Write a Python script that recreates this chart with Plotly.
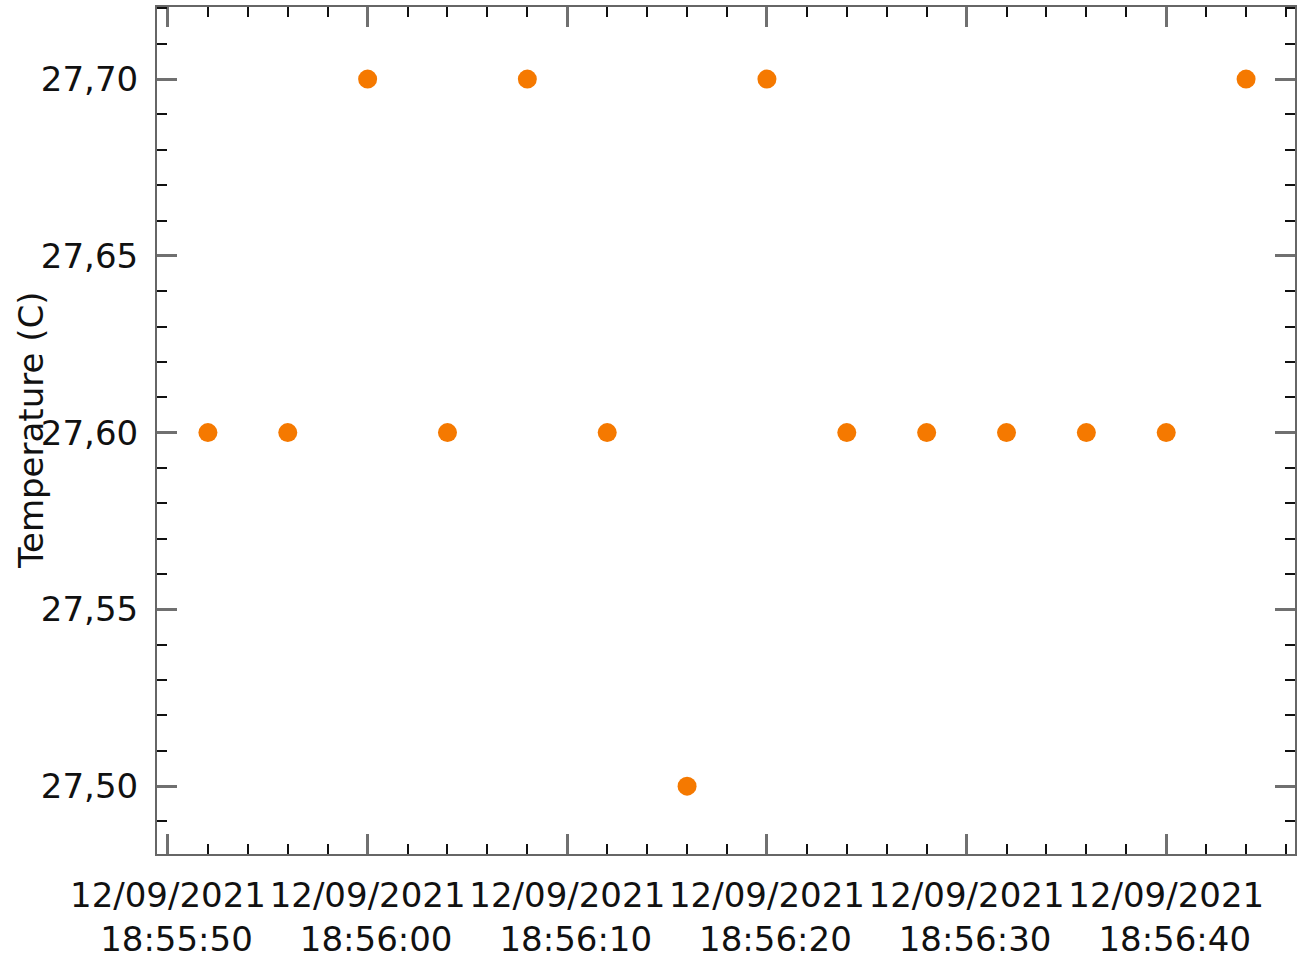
import plotly.graph_objects as go

times = ["2021-09-12 18:55:52", "2021-09-12 18:55:56", "2021-09-12 18:56:00",
         "2021-09-12 18:56:04", "2021-09-12 18:56:08", "2021-09-12 18:56:12",
         "2021-09-12 18:56:16", "2021-09-12 18:56:20", "2021-09-12 18:56:24",
         "2021-09-12 18:56:28", "2021-09-12 18:56:32", "2021-09-12 18:56:36",
         "2021-09-12 18:56:40", "2021-09-12 18:56:44"]
temps = [27.6, 27.6, 27.7, 27.6, 27.7, 27.6, 27.5, 27.7, 27.6, 27.6, 27.6, 27.6, 27.6, 27.7]

x_range = ["2021-09-12 18:55:49.45", "2021-09-12 18:56:46.45"]
y_range = [27.4808, 27.7204]

FONT = "DejaVu Sans"
FS = 34

fig = go.Figure()
fig.add_trace(go.Scatter(
    x=times, y=temps, mode="markers",
    marker=dict(color="#f57900", size=19, line=dict(width=0)),
    showlegend=False,
))

axis_common = dict(
    showgrid=False, zeroline=False, automargin=False,
    showline=True, linecolor="#666666", linewidth=2,
    mirror="allticks", ticks="inside", tickcolor="#707070", tickwidth=2.5,
    ticklen=20, ticklabelstandoff=10,
    tickfont=dict(family=FONT, size=FS, color="#111111"),
)

W, H = 1297, 961
L, R, T, B = 157, 2, 7, 107

fig.update_layout(
    width=W, height=H,
    margin=dict(l=L, r=R, t=T, b=B),
    paper_bgcolor="white", plot_bgcolor="white",
    separators=",.",
    font=dict(family=FONT, size=FS, color="#111111"),
    xaxis=dict(
        **axis_common,
        type="date", range=x_range,
        tick0="2021-09-12 18:55:50", dtick=10000,
        tickformat="%d/%m/%Y<br>\u2002%H:%M:%S",
        minor=dict(dtick=2000, tick0="2021-09-12 18:55:50", ticks="inside",
                   ticklen=10, tickwidth=1.5, tickcolor="#111111"),
    ),
    yaxis=dict(
        **axis_common,
        range=y_range, tick0=27.5, dtick=0.05, tickformat=".2f",
        minor=dict(dtick=0.01, tick0=27.5, ticks="inside",
                   ticklen=10, tickwidth=1.5, tickcolor="#111111"),
    ),
    annotations=[dict(
        text="Temperature (C)", textangle=-90,
        xref="paper", yref="paper", x=(31 - L) / (W - L - R), y=0.4994,
        xanchor="center", yanchor="middle", showarrow=False,
        font=dict(family=FONT, size=FS, color="#111111"),
    )],
)

# remove the browser's default 8px body margin so the figure fills the window
fig.write_html("out.html", config={"displayModeBar": False},
               post_script="document.body.style.margin='0';")
